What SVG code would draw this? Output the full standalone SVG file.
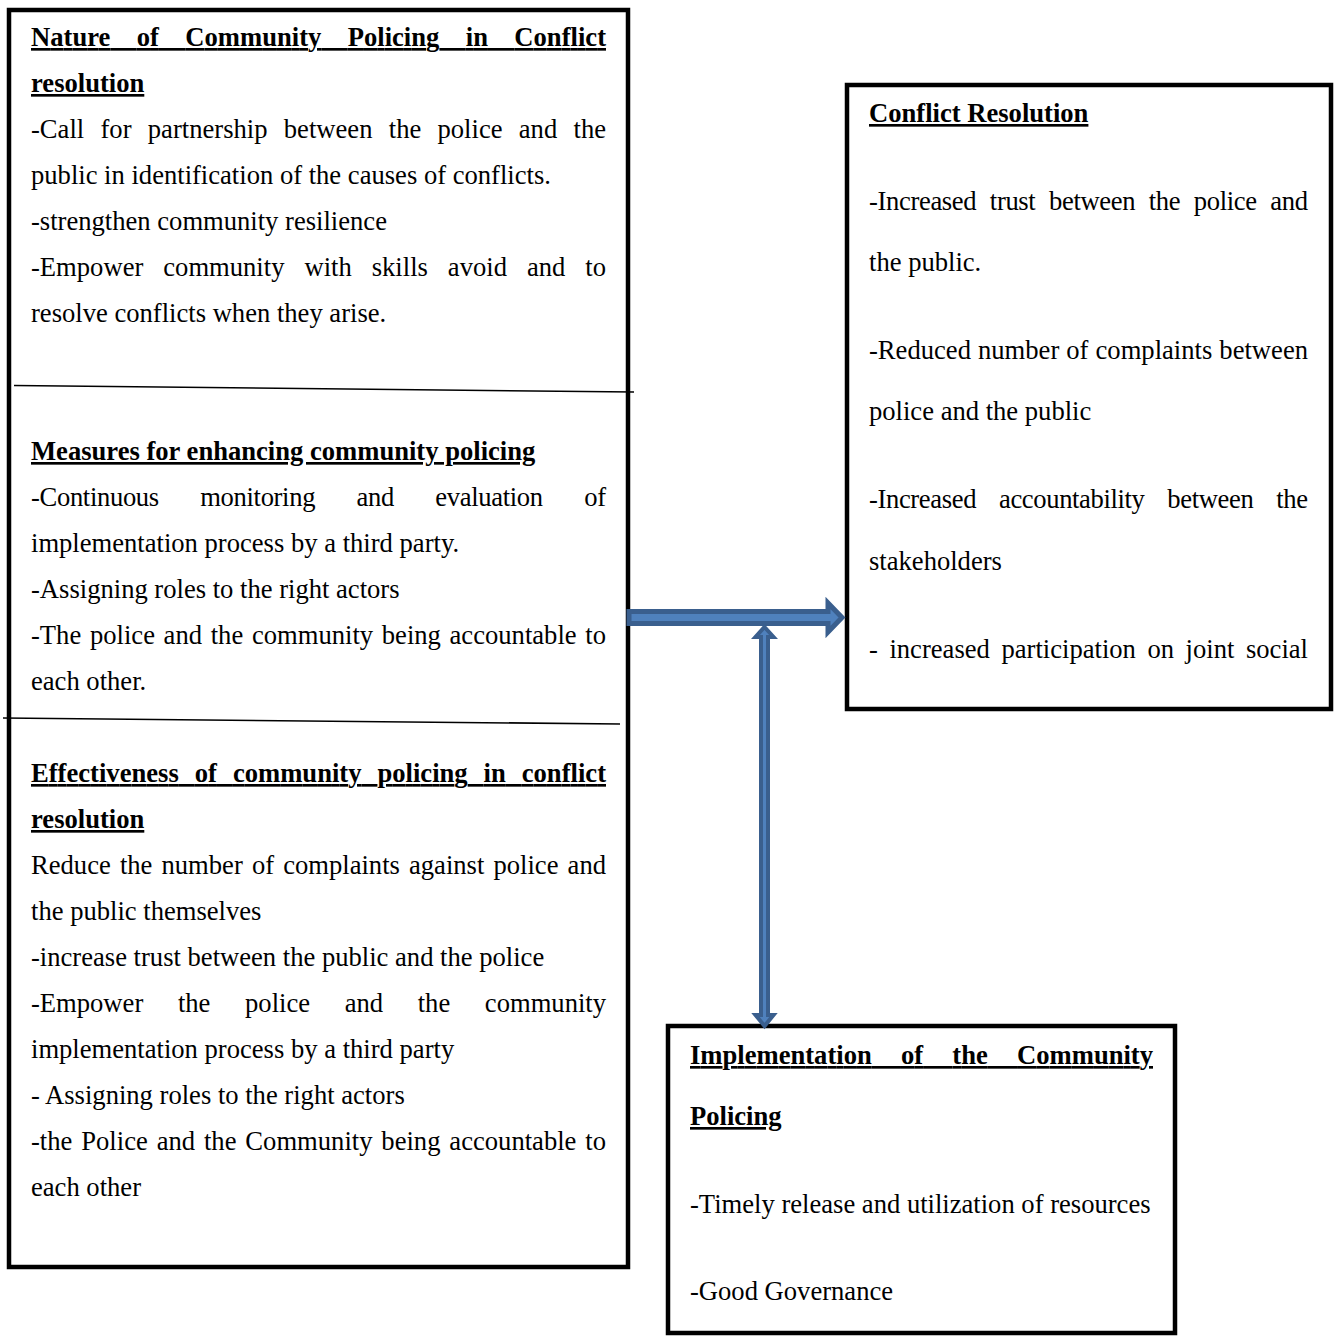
<svg xmlns="http://www.w3.org/2000/svg" width="1338" height="1336" viewBox="0 0 1338 1336">
<style>
  text { font-family: "Liberation Serif", "Times New Roman", serif; font-size: 26.6px; fill: #000; }
  .h { font-weight: bold; text-decoration: underline; }
  .box { fill: #fff; stroke: #000; stroke-width: 4.5; }
  .div { stroke: #000; stroke-width: 1.6; fill: none; }
  .arrow { fill: #4F81BD; stroke: #3A5F8E; stroke-linejoin: miter; }
</style>
<rect width="1338" height="1336" fill="#fff"/>

<g id="node-left">
  <rect class="box" x="9" y="10" width="619" height="1257"/>
  <g id="section-nature">
    <text class="h" x="31" y="46" textLength="575" lengthAdjust="spacing" style="word-spacing:19.7px">Nature of Community Policing in Conflict</text>
    <text class="h" x="31" y="92">resolution</text>
    <text x="31" y="138" textLength="575" lengthAdjust="spacing" style="word-spacing:9.6px">-Call for partnership between the police and the</text>
    <text x="31" y="184">public in identification of the causes of conflicts.</text>
    <text x="31" y="230">-strengthen community resilience</text>
    <text x="31" y="276" textLength="575" lengthAdjust="spacing" style="word-spacing:13.3px">-Empower community with skills avoid and to</text>
    <text x="31" y="322">resolve conflicts when they arise.</text>
  </g>
  <line class="div" x1="14" y1="385.5" x2="634" y2="392"/>
  <g id="section-measures">
    <text class="h" x="31" y="460">Measures for enhancing community policing</text>
    <text x="31" y="506" textLength="575" lengthAdjust="spacing" style="word-spacing:35.1px">-Continuous monitoring and evaluation of</text>
    <text x="31" y="552">implementation process by a third party.</text>
    <text x="31" y="598">-Assigning roles to the right actors</text>
    <text x="31" y="644" textLength="575" lengthAdjust="spacing" style="word-spacing:2px">-The police and the community being accountable to</text>
    <text x="31" y="690">each other.</text>
  </g>
  <line class="div" x1="3" y1="718" x2="620" y2="724"/>
  <g id="section-effectiveness">
    <text class="h" x="31" y="782" textLength="575" lengthAdjust="spacing" style="word-spacing:9.3px">Effectiveness of community policing in conflict</text>
    <text class="h" x="31" y="828">resolution</text>
    <text x="31" y="874" textLength="575" lengthAdjust="spacing" style="word-spacing:2.5px">Reduce the number of complaints against police and</text>
    <text x="31" y="920">the public themselves</text>
    <text x="31" y="966">-increase trust between the public and the police</text>
    <text x="31" y="1012" textLength="575" lengthAdjust="spacing" style="word-spacing:28px">-Empower the police and the community</text>
    <text x="31" y="1058">implementation process by a third party</text>
    <text x="31" y="1104">- Assigning roles to the right actors</text>
    <text x="31" y="1150" textLength="575" lengthAdjust="spacing" style="word-spacing:2.2px">-the Police and the Community being accountable to</text>
    <text x="31" y="1196">each other</text>
  </g>
</g>

<g id="node-conflict-resolution">
  <rect class="box" x="847" y="85" width="484" height="624"/>
  <text class="h" x="869" y="122">Conflict Resolution</text>
  <text x="869" y="210" textLength="439" lengthAdjust="spacing" style="word-spacing:7.3px">-Increased trust between the police and</text>
  <text x="869" y="271">the public.</text>
  <text x="869" y="359" textLength="439" lengthAdjust="spacing" style="word-spacing:0.4px">-Reduced number of complaints between</text>
  <text x="869" y="420">police and the public</text>
  <text x="869" y="508" textLength="439" lengthAdjust="spacing" style="word-spacing:16.6px">-Increased accountability between the</text>
  <text x="869" y="570">stakeholders</text>
  <text x="869" y="658" textLength="439" lengthAdjust="spacing" style="word-spacing:4.9px">- increased participation on joint social</text>
</g>

<g id="node-implementation">
  <rect class="box" x="668" y="1026" width="507" height="307"/>
  <text class="h" x="690" y="1064" textLength="463" lengthAdjust="spacing" style="word-spacing:22.6px">Implementation of the Community</text>
  <text class="h" x="690" y="1125">Policing</text>
  <text x="690" y="1213">-Timely release and utilization of resources</text>
  <text x="690" y="1300">-Good Governance</text>
</g>

<g id="connectors">
  <polygon id="arrow-to-conflict" class="arrow" stroke-width="5" points="629,611.5 828,611.5 828,603 842,617.5 828,632 828,623.5 629,623.5"/>
  <polygon id="arrow-double" class="arrow" stroke-width="4" points="764.5,627 773.5,637 768,637 768,1015 773.5,1015 764.5,1026 755.5,1015 761,1015 761,637 755.5,637"/>
</g>
</svg>
